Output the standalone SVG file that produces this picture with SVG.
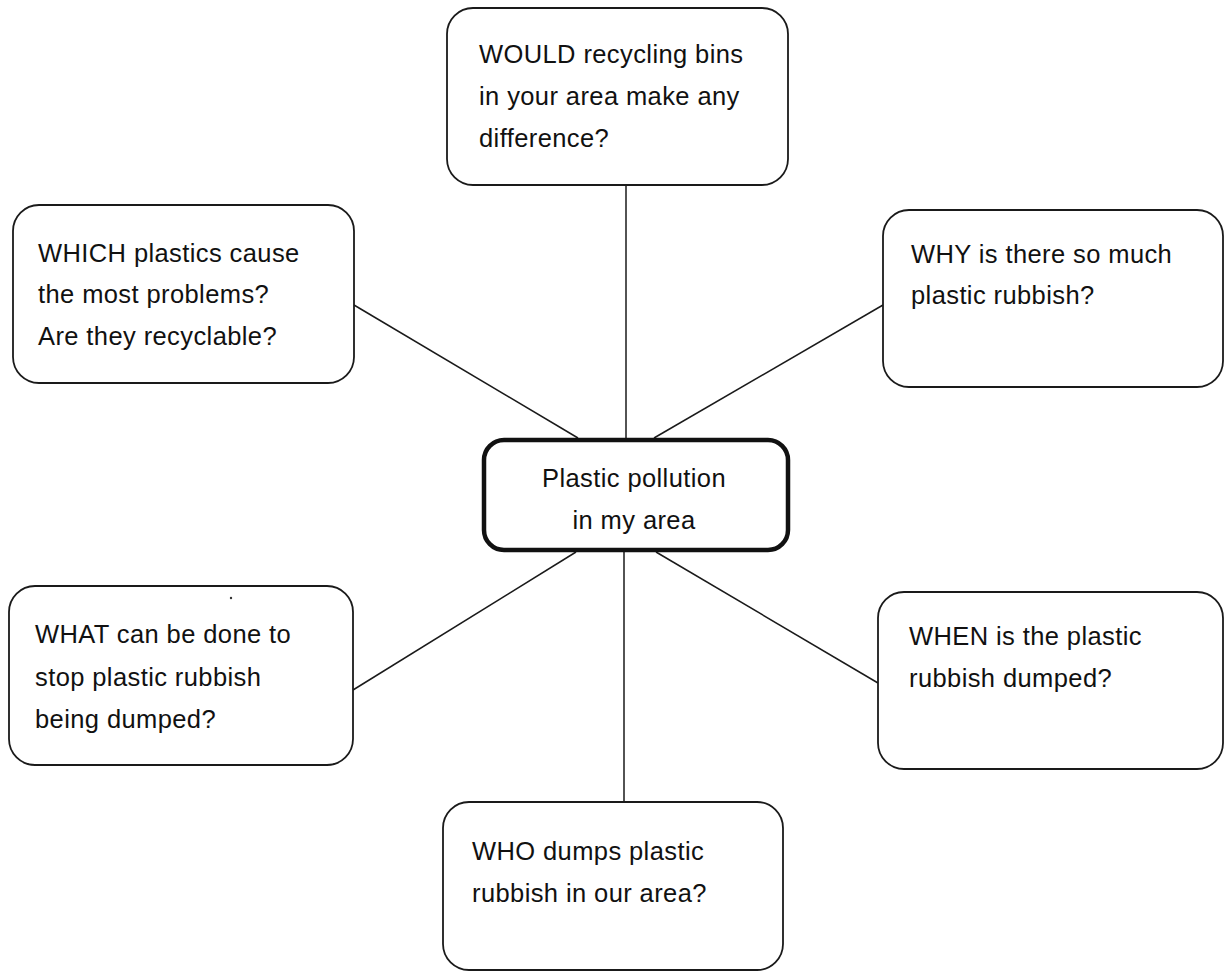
<svg xmlns="http://www.w3.org/2000/svg" width="1224" height="974" viewBox="0 0 1224 974">
<style>
.box{fill:#fff;stroke:#1a1a1a;stroke-width:1.8}
.center{fill:#fff;stroke:#111;stroke-width:4.5}
.conn{stroke:#1a1a1a;stroke-width:1.5;fill:none}
text{font-family:"Liberation Sans",Arial,sans-serif;font-size:25.5px;letter-spacing:0.4px;fill:#111}
</style>
<rect width="1224" height="974" fill="#fff"/>
<g id="connectors">
<line class="conn" x1="626" y1="185" x2="626" y2="440"/>
<line class="conn" x1="354" y1="305" x2="578" y2="438"/>
<line class="conn" x1="883" y1="305" x2="654" y2="438"/>
<line class="conn" x1="353" y1="690" x2="576" y2="552"/>
<line class="conn" x1="878" y1="683" x2="656" y2="552"/>
<line class="conn" x1="624" y1="552" x2="624" y2="802"/>
</g>
<g id="top">
<rect class="box" x="447" y="8" width="341" height="177" rx="26"/>
<text x="479" y="63">WOULD recycling bins</text>
<text x="479" y="105">in your area make any</text>
<text x="479" y="147">difference?</text>
</g>
<g id="upper-left">
<rect class="box" x="13" y="205" width="341" height="178" rx="26"/>
<text x="38" y="262">WHICH plastics cause</text>
<text x="38" y="303">the most problems?</text>
<text x="38" y="345">Are they recyclable?</text>
</g>
<g id="upper-right">
<rect class="box" x="883" y="210" width="340" height="177" rx="26"/>
<text x="911" y="263">WHY is there so much</text>
<text x="911" y="304">plastic rubbish?</text>
</g>
<g id="lower-left">
<rect class="box" x="9" y="586" width="344" height="179" rx="26"/>
<text x="35" y="643">WHAT can be done to</text>
<text x="35" y="686">stop plastic rubbish</text>
<text x="35" y="728">being dumped?</text>
<circle cx="231" cy="598" r="1.2" fill="#333"/>
</g>
<g id="lower-right">
<rect class="box" x="878" y="592" width="345" height="177" rx="26"/>
<text x="909" y="645">WHEN is the plastic</text>
<text x="909" y="687">rubbish dumped?</text>
</g>
<g id="bottom">
<rect class="box" x="443" y="802" width="340" height="168" rx="26"/>
<text x="472" y="860">WHO dumps plastic</text>
<text x="472" y="902">rubbish in our area?</text>
</g>
<g id="center">
<rect class="center" x="484" y="440" width="304" height="110" rx="20"/>
<text x="634" y="487" text-anchor="middle">Plastic pollution</text>
<text x="634" y="529" text-anchor="middle">in my area</text>
</g>
</svg>
